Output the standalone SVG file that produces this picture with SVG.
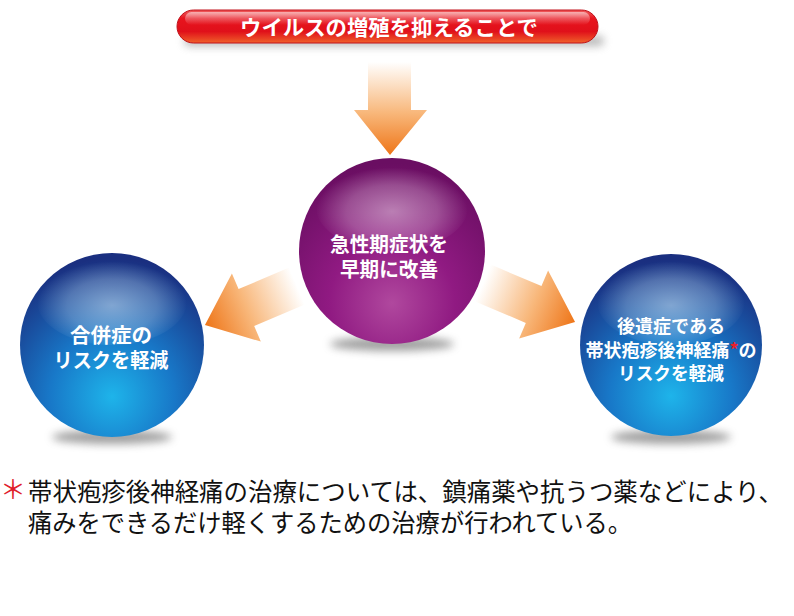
<svg xmlns="http://www.w3.org/2000/svg" width="794" height="616" viewBox="0 0 794 616">
<style>
.jp{font-family:"Noto Sans CJK JP","Noto Sans",sans-serif;}
.st{font-weight:bold;fill:#ffffff;text-anchor:middle;}
.ft{font-size:25px;fill:#111111;}
</style>
<defs>
<linearGradient id="banner" x1="0" y1="0" x2="0" y2="1">
<stop offset="0" stop-color="#f06060"/>
<stop offset="0.25" stop-color="#e8141e"/>
<stop offset="0.65" stop-color="#e0101a"/>
<stop offset="1" stop-color="#f0602a"/>
</linearGradient>
<linearGradient id="bannerGloss" x1="0" y1="0" x2="0" y2="1">
<stop offset="0" stop-color="#ffffff" stop-opacity="0.55"/>
<stop offset="1" stop-color="#ffffff" stop-opacity="0"/>
</linearGradient>
<radialGradient id="blue" cx="0.5" cy="0.78" r="0.75">
<stop offset="0" stop-color="#1eb4ea"/>
<stop offset="0.45" stop-color="#1878c8"/>
<stop offset="1" stop-color="#1a2f80"/>
</radialGradient>
<radialGradient id="purple" cx="0.5" cy="0.78" r="0.75">
<stop offset="0" stop-color="#b0489e"/>
<stop offset="0.45" stop-color="#901a82"/>
<stop offset="1" stop-color="#6a0e62"/>
</radialGradient>
<radialGradient id="gloss" cx="0.5" cy="0.55" r="0.5">
<stop offset="0" stop-color="#ffffff" stop-opacity="0.45"/>
<stop offset="0.6" stop-color="#ffffff" stop-opacity="0.25"/>
<stop offset="1" stop-color="#ffffff" stop-opacity="0"/>
</radialGradient>
<linearGradient id="arrowH" gradientUnits="userSpaceOnUse" x1="0" y1="0" x2="100" y2="0">
<stop offset="0" stop-color="#ffffff"/>
<stop offset="0.55" stop-color="#f8b77a"/>
<stop offset="1" stop-color="#ee7518"/>
</linearGradient>
<linearGradient id="arrowV" gradientUnits="userSpaceOnUse" x1="0" y1="62" x2="0" y2="155">
<stop offset="0" stop-color="#ffffff"/>
<stop offset="0.55" stop-color="#f8b77a"/>
<stop offset="1" stop-color="#ee7518"/>
</linearGradient>
<filter id="blur" x="-50%" y="-200%" width="200%" height="500%">
<feGaussianBlur stdDeviation="4"/>
</filter>
</defs>
<rect width="794" height="616" fill="#ffffff"/>

<g id="banner-node">
<rect x="184" y="36" width="420" height="10" rx="5" fill="#888888" opacity="0.6" filter="url(#blur)"/>
<rect x="177" y="10" width="421" height="33" rx="16.5" fill="url(#banner)" stroke="#c0101a" stroke-width="1"/>
<rect x="185" y="12" width="405" height="13" rx="6.5" fill="url(#bannerGloss)"/>
<text class="jp st" x="389" y="35" font-size="21" textLength="298" lengthAdjust="spacingAndGlyphs">ウイルスの増殖を抑えることで</text>
</g>

<g id="connectors">
<polygon points="368,62 411,62 411,110 427,110 390,155 354,110 368,110" fill="url(#arrowV)"/>
<g transform="translate(297,286) rotate(157)">
<polygon points="0,-20 55,-20 55,-37 100,0 55,37 55,20 0,20" fill="url(#arrowH)"/>
</g>
<g transform="translate(483,283) rotate(23)">
<polygon points="0,-20 55,-20 55,-37 100,0 55,37 55,20 0,20" fill="url(#arrowH)"/>
</g>
</g>

<g id="center-node">
<ellipse cx="392" cy="344" rx="62" ry="7" fill="#777777" opacity="0.7" filter="url(#blur)"/>
<circle cx="392" cy="251" r="93" fill="url(#purple)"/>
<ellipse cx="392" cy="207" rx="76" ry="44" fill="url(#gloss)"/>
<text class="jp st" x="389" y="252" font-size="20" textLength="118" lengthAdjust="spacingAndGlyphs">急性期症状を</text>
<text class="jp st" x="389" y="277" font-size="20" textLength="98" lengthAdjust="spacingAndGlyphs">早期に改善</text>
</g>

<g id="left-node">
<ellipse cx="112" cy="437" rx="60" ry="7" fill="#777777" opacity="0.7" filter="url(#blur)"/>
<circle cx="112" cy="345" r="92" fill="url(#blue)"/>
<ellipse cx="112" cy="301" rx="75" ry="44" fill="url(#gloss)"/>
<text class="jp st" x="111" y="343" font-size="20" textLength="82" lengthAdjust="spacingAndGlyphs">合併症の</text>
<text class="jp st" x="111" y="368" font-size="20" textLength="115" lengthAdjust="spacingAndGlyphs">リスクを軽減</text>
</g>

<g id="right-node">
<ellipse cx="671" cy="437" rx="60" ry="7" fill="#777777" opacity="0.7" filter="url(#blur)"/>
<circle cx="671" cy="345" r="91" fill="url(#blue)"/>
<ellipse cx="671" cy="301" rx="74" ry="44" fill="url(#gloss)"/>
<text class="jp st" x="671" y="333" font-size="18" textLength="108" lengthAdjust="spacingAndGlyphs">後遺症である</text>
<text class="jp st" x="671" y="357" font-size="18">帯状疱疹後神経痛<tspan fill="#e8202a">*</tspan>の</text>
<text class="jp st" x="671" y="380" font-size="18" textLength="106" lengthAdjust="spacingAndGlyphs">リスクを軽減</text>
</g>

<g id="footnote">
<text class="jp" x="0" y="499" font-size="26" fill="#e0202a">＊</text>
<text class="jp ft" x="28" y="501" textLength="755" lengthAdjust="spacingAndGlyphs">帯状疱疹後神経痛の治療については、鎮痛薬や抗うつ薬などにより、</text>
<text class="jp ft" x="28" y="532" textLength="604" lengthAdjust="spacingAndGlyphs">痛みをできるだけ軽くするための治療が行われている。</text>
</g>
</svg>
